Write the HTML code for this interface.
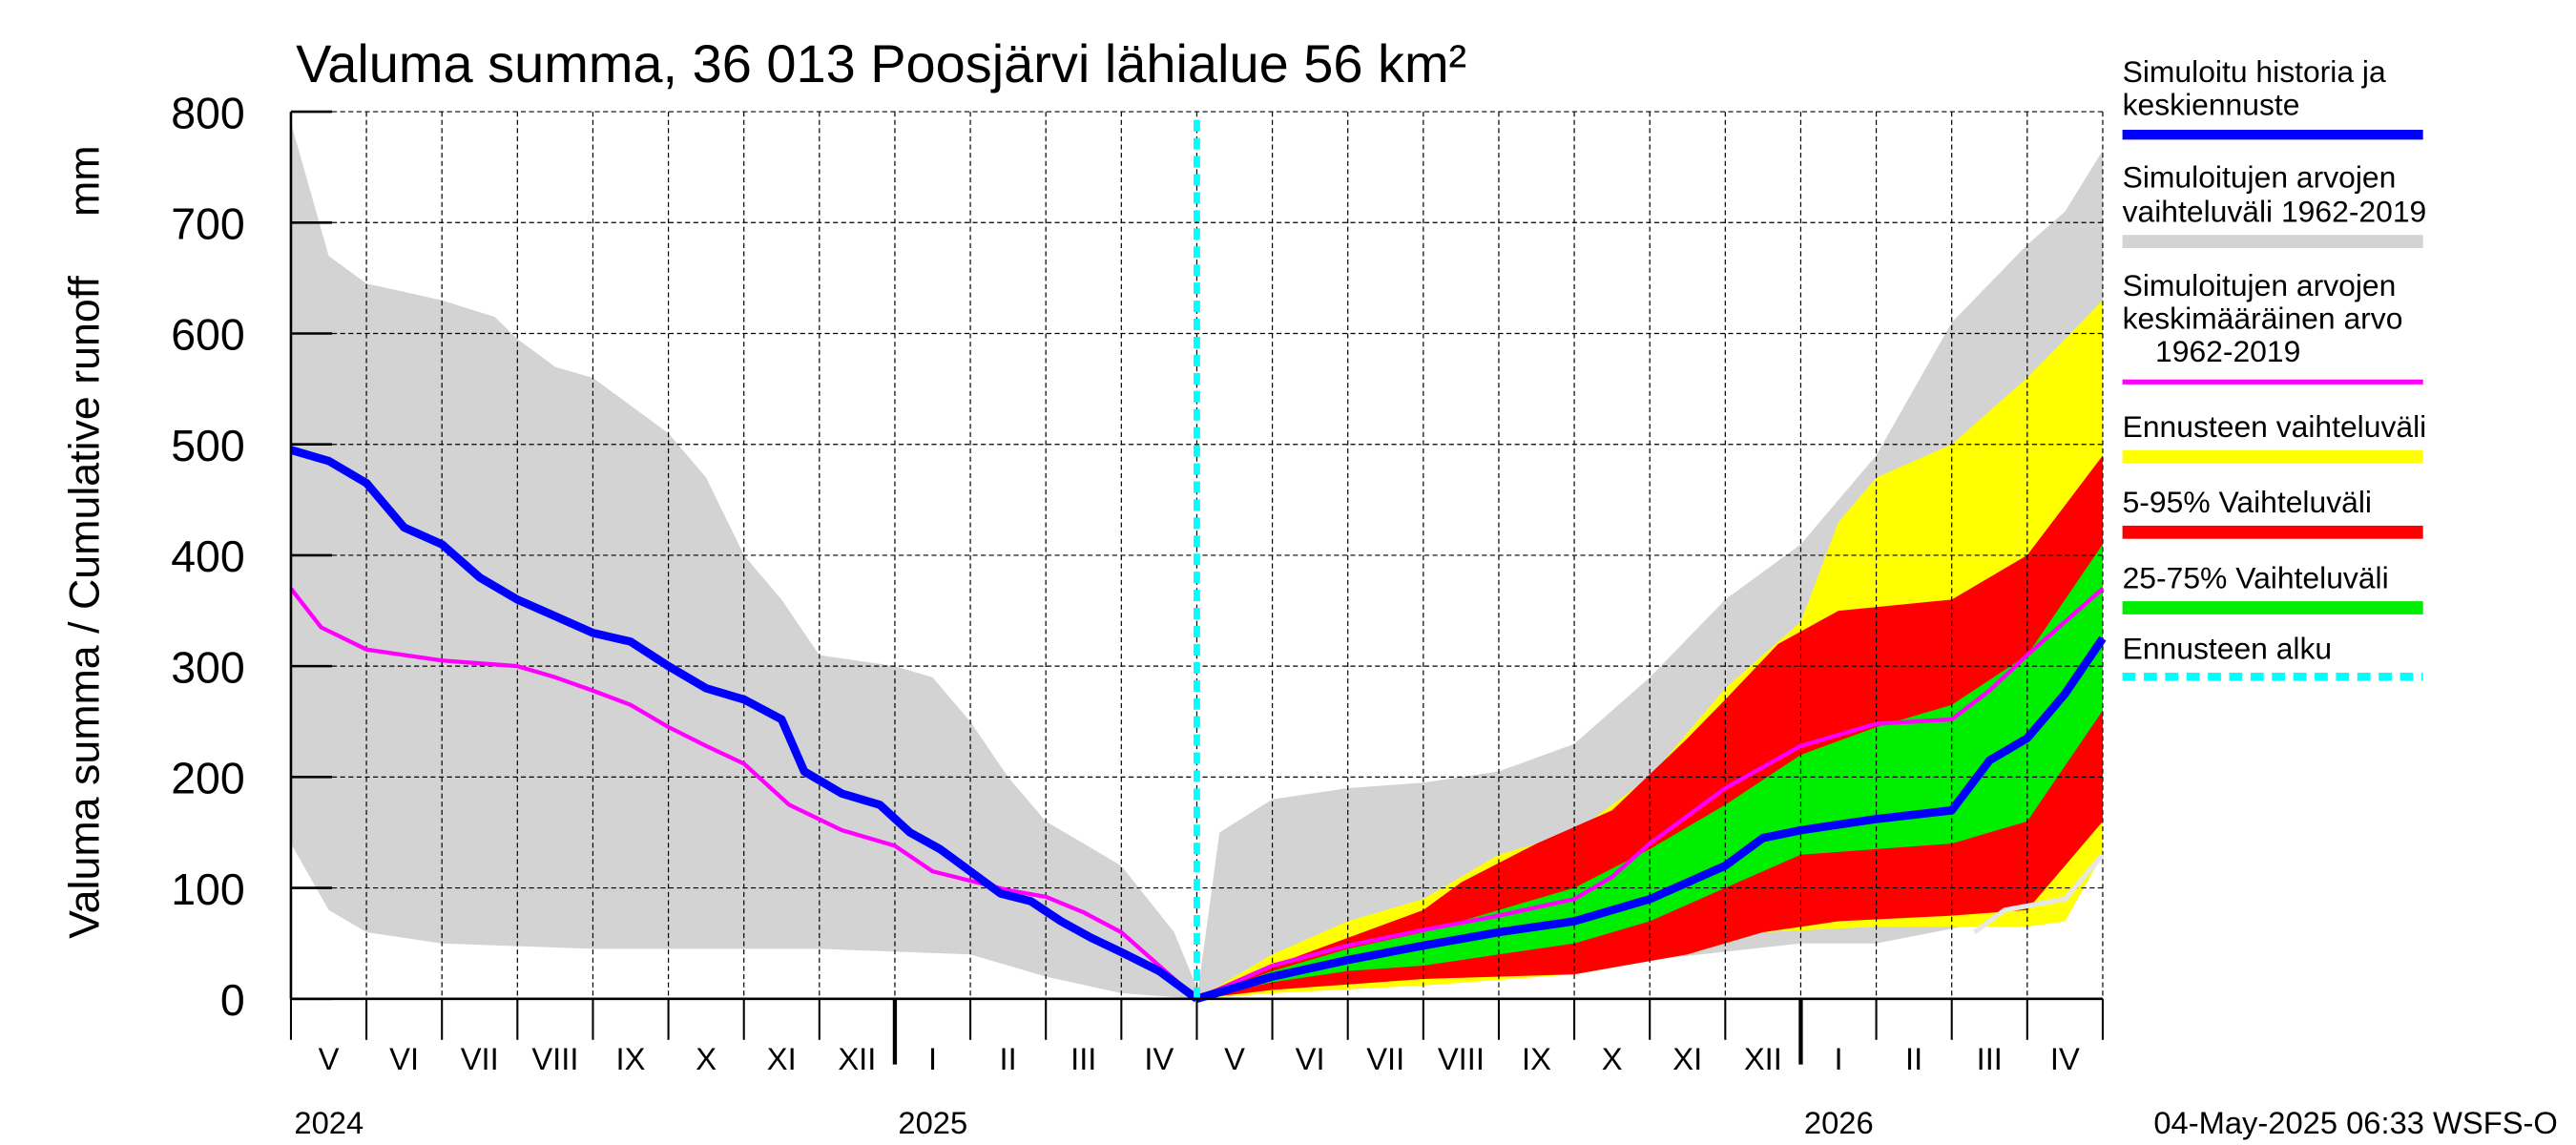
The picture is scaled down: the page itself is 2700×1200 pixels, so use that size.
<!DOCTYPE html>
<html><head><meta charset="utf-8"><style>
html,body{margin:0;padding:0;background:#fff;}
svg{display:block;font-family:"Liberation Sans",sans-serif;}
</style></head><body>
<svg id="chart" width="2700" height="1200" viewBox="0 0 1568 697" xmlns="http://www.w3.org/2000/svg">
<g id="bands"></g>
<g id="grid"></g>
<g id="lines"></g>
<g id="axes"></g>
<text x="180" y="50" font-size="32.5">Valuma summa, 36 013 Poosjärvi lähialue 56 km²</text>
<text transform="translate(60,330) rotate(-90)" text-anchor="middle" font-size="26" xml:space="preserve">Valuma summa / Cumulative runoff     mm</text>
<text x="1557" y="690" text-anchor="end" font-size="19">04-May-2025 06:33 WSFS-O</text>
<g font-size="18.5">
<text x="1292" y="50">Simuloitu historia ja</text>
<text x="1292" y="70">keskiennuste</text>
<rect x="1292" y="79" width="183" height="6" fill="#0000ff"/>
<text x="1292" y="114">Simuloitujen arvojen</text>
<text x="1292" y="135">vaihteluväli 1962-2019</text>
<rect x="1292" y="143" width="183" height="8" fill="#d3d3d3"/>
<text x="1292" y="180">Simuloitujen arvojen</text>
<text x="1292" y="200">keskimääräinen arvo</text>
<text x="1312" y="220">1962-2019</text>
<rect x="1292" y="231" width="183" height="3" fill="#ff00ff"/>
<text x="1292" y="266">Ennusteen vaihteluväli</text>
<rect x="1292" y="274" width="183" height="8" fill="#ffff00"/>
<text x="1292" y="312">5-95% Vaihteluväli</text>
<rect x="1292" y="320" width="183" height="8" fill="#ff0000"/>
<text x="1292" y="358">25-75% Vaihteluväli</text>
<rect x="1292" y="366" width="183" height="8" fill="#00ee00"/>
<text x="1292" y="401">Ennusteen alku</text>
<line x1="1292" y1="412" x2="1475" y2="412" stroke="#00ffff" stroke-width="5" stroke-dasharray="8,5"/>
</g>
</svg>
<script>
// data: [month index from May 2024, mm]
const grayHistUpper=[[0,790],[0.5,670],[1,645],[2,630],[2.7,615],[3,595],[3.5,570],[4,560],[4.3,545],[5,510],[5.5,470],[6,400],[6.5,360],[7,310],[8,300],[8.5,290],[9,250],[9.5,200],[10,160],[11,120],[11.7,60],[12,10]];
const grayHistLower=[[0,140],[0.5,80],[1,60],[2,50],[4,45],[7,45],[9,40],[10,20],[11,5],[12,0]];
const blueHist=[[0,495],[0.5,485],[1,465],[1.5,425],[2,410],[2.5,380],[3,360],[3.5,345],[4,330],[4.5,322],[5,300],[5.5,280],[6,270],[6.5,252],[6.8,205],[7.3,185],[7.8,175],[8.2,150],[8.6,135],[9,115],[9.4,95],[9.8,88],[10.2,70],[10.6,55],[11,42],[11.5,25],[12,0]];
const magHist=[[0,370],[0.4,335],[1,315],[2,305],[3,300],[3.5,290],[4,278],[4.5,265],[5,245],[5.5,228],[6,212],[6.6,175],[7.3,152],[8,138],[8.5,115],[9.5,98],[10,92],[10.5,78],[11,60],[11.5,30],[12,0]];
const grayFcUpper=[[12,0],[12.3,150],[13,180],[14,190],[15,195],[16,205],[17,230],[18,290],[19,360],[20,410],[21,490],[22,610],[23,680],[23.5,710],[24,765]];
const grayFcLower=[[12,0],[13,5],[15,15],[17,30],[18,35],[20,50],[21,50],[22.5,70],[23.5,110],[24,140]];
const yellowUpper=[[12,0],[13,40],[14,70],[15,90],[16,130],[17,150],[18,200],[19,280],[20,340],[20.5,430],[21,470],[22,500],[23,560],[24,630]];
const yellowLower=[[12,0],[13,5],[15,12],[17,22],[18.5,40],[19.5,60],[21,65],[23,65],[23.5,70],[24,130]];
const redUpper=[[12,0],[13,30],[14,55],[15,80],[15.5,105],[16.5,140],[17.5,170],[18.5,235],[19,270],[19.7,320],[20.5,350],[22,360],[23,400],[24,490]];
const redLower=[[12,0],[13,8],[15,18],[17,22],[18.5,40],[19.5,60],[20.5,70],[22,75],[23,80],[23.5,120],[24,160]];
const greenUpper=[[12,0],[13,25],[14,45],[15,60],[16,80],[17,100],[18,135],[19,175],[20,220],[21,245],[22,265],[23,310],[24,410]];
const greenLower=[[12,0],[13,15],[14,25],[15,30],[16,40],[17,50],[18,70],[19,100],[20,130],[22,140],[23,160],[24,260]];
const blueFc=[[12,0],[13,20],[14,35],[15,48],[16,60],[17,70],[18,90],[19,120],[19.5,145],[20,152],[21,162],[22,170],[22.5,215],[23,235],[23.5,275],[24,325]];
const magFc=[[12,0],[13,30],[14,48],[15,62],[16,75],[17,90],[17.5,110],[18,140],[19,190],[20,228],[21,248],[22,252],[22.5,278],[23,310],[24,370]];
const paleFc=[[22.3,60],[22.7,80],[23.5,90],[24,130]];
const monthLabels=["V","VI","VII","VIII","IX","X","XI","XII","I","II","III","IV","V","VI","VII","VIII","IX","X","XI","XII","I","II","III","IV"];
const yTicks=[0,100,200,300,400,500,600,700,800];
const yearLabels=[["2024",0],["2025",8],["2026",20]];

const X0=177,X1=1280,Y0=608,YT=68;
const xs=m=>X0+m*(X1-X0)/24;
const ys=v=>Y0-v*(Y0-YT)/800;
const NS="http://www.w3.org/2000/svg";
function mk(tag,attrs,parent){const e=document.createElementNS(NS,tag);for(const k in attrs)e.setAttribute(k,attrs[k]);parent.appendChild(e);return e;}
const pts=a=>a.map(p=>xs(p[0]).toFixed(1)+","+ys(p[1]).toFixed(1));
function band(up,lo,fill,name){const d="M"+pts(up).join("L")+"L"+pts(lo.slice().reverse()).join("L")+"Z";
 const e=mk("path",{d:d,fill:fill},document.getElementById("bands"));
 
 }
function line(a,stroke,w,name){const e=mk("polyline",{points:pts(a).join(" "),fill:"none",stroke:stroke,"stroke-width":w,"stroke-linejoin":"round"},document.getElementById("lines"));
 
 }
band(grayHistUpper,grayHistLower,"#d3d3d3","history-range-band");
band(grayFcUpper,grayFcLower,"#d3d3d3","forecast-history-range-band");
band(yellowUpper,yellowLower,"#ffff00","forecast-range-band");
band(redUpper,redLower,"#ff0000","band-5-95");
band(greenUpper,greenLower,"#00ee00","band-25-75");
const g=document.getElementById("grid");
for(const v of yTicks){if(v===0)continue;const e=mk("line",{x1:X0,x2:X1,y1:ys(v),y2:ys(v),stroke:"#000","stroke-width":0.7,"stroke-dasharray":"3,2"},g);
 
 }
for(let m=1;m<=24;m++){const e=mk("line",{x1:xs(m),x2:xs(m),y1:YT,y2:Y0,stroke:"#000","stroke-width":0.7,"stroke-dasharray":"3,2"},g);
 
 }
line(paleFc,"#e6e6e6",3,"lower-range-line");
line(magHist,"#ff00ff",2.5,"mean-history-line");
line(magFc,"#ff00ff",2.5,"mean-forecast-line");
line(blueHist,"#0000ff",5,"simulated-history-line");
line(blueFc,"#0000ff",5,"median-forecast-line");
const c=mk("line",{x1:xs(12),x2:xs(12),y1:YT+5,y2:Y0,stroke:"#00ffff","stroke-width":4,"stroke-dasharray":"7,4"},document.getElementById("lines"));


const ax=document.getElementById("axes");
mk("line",{x1:X0,x2:X0,y1:YT,y2:Y0,stroke:"#000","stroke-width":1.5},ax);
mk("line",{x1:X0,x2:X1,y1:Y0,y2:Y0,stroke:"#000","stroke-width":1.5},ax);
for(const v of yTicks){mk("line",{x1:X0,x2:X0+25,y1:ys(v),y2:ys(v),stroke:"#000","stroke-width":1.5},ax);
 const t=mk("text",{x:X0-28,y:ys(v)+10,"text-anchor":"end","font-size":27},ax);t.textContent=v;
 
 }
for(let m=0;m<=24;m++){const yr=(m===8||m===20);mk("line",{x1:xs(m),x2:xs(m),y1:Y0,y2:Y0+(yr?40:25),stroke:"#000","stroke-width":yr?2.5:1.2},ax);}
monthLabels.forEach((l,i)=>{const t=mk("text",{x:xs(i+0.5),y:651,"text-anchor":"middle","font-size":19},ax);t.textContent=l;
 
 });
yearLabels.forEach(([l,m])=>{const t=mk("text",{x:xs(m)+2,y:690,"font-size":19},ax);t.textContent=l;
 
 });
</script>
</body></html>
